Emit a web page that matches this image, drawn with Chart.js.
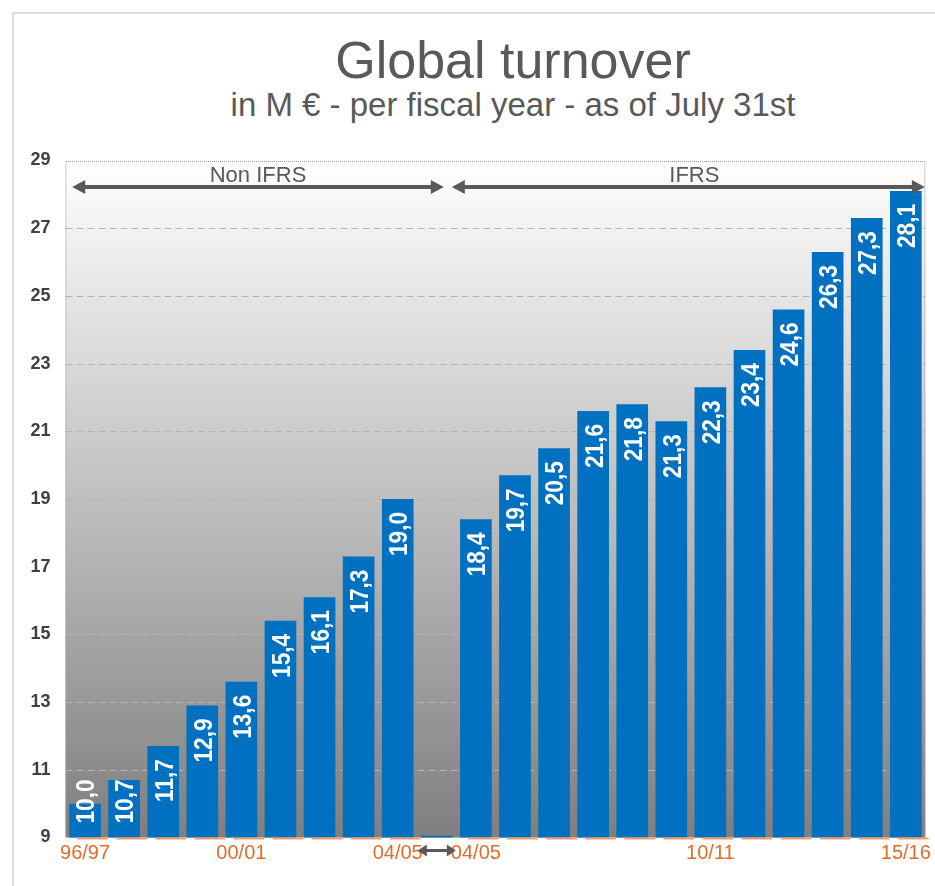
<!DOCTYPE html>
<html>
<head>
<meta charset="utf-8">
<script src="https://cdn.jsdelivr.net/npm/chart.js@4.4.1/dist/chart.umd.min.js"></script>
<style>
  html, body { margin: 0; padding: 0; background: #fff; overflow: hidden; }
  #wrap { position: relative; width: 935px; height: 886px; }
  #frame { position: absolute; left: 12px; top: 12px; width: 1000px; height: 1000px;
           border-left: 2px solid #dcdcdc; border-top: 2px solid #dcdcdc; }
  .ttl { position: absolute; left: 0; width: 1026px; text-align: center;
         font-family: "Liberation Sans", Arial, sans-serif; color: #595959; white-space: nowrap; }
  #title { top: 34px; font-size: 52px; line-height: 52px; }
  #subtitle { top: 88px; font-size: 33px; line-height: 33px; }
  canvas { position: absolute; left: 0; top: 0; }
</style>
</head>
<body>
<div id="wrap">
  <div id="frame"></div>
  <div id="title" class="ttl">Global turnover</div>
  <div id="subtitle" class="ttl">in M € - per fiscal year - as of July 31st</div>
  <canvas id="turnoverChart" width="935" height="886"></canvas>
</div>
<script>
// fiscal years (the empty slot separates Non IFRS and IFRS figures)
const categories = ['96/97', '97/98', '98/99', '99/00', '00/01', '01/02', '02/03', '03/04', '04/05',
  '', '04/05', '05/06', '06/07', '07/08', '08/09', '09/10', '10/11', '11/12', '12/13', '13/14', '14/15', '15/16'];
const turnover = [10.0, 10.7, 11.7, 12.9, 13.6, 15.4, 16.1, 17.3, 19.0,
  9.05, 18.4, 19.7, 20.5, 21.6, 21.8, 21.3, 22.3, 23.4, 24.6, 26.3, 27.3, 28.1];
const gapIndex = 9;
const shownTicks = [0, 4, 8, 10, 16, 21];
const yTicks = [9, 11, 13, 15, 17, 19, 21, 23, 25, 27, 29];
const periods = ['Non IFRS', 'IFRS'];

const ARROW = '#595959';

function doubleArrow(ctx, x1, x2, y, lw, hl, hw) {
  ctx.save();
  ctx.strokeStyle = ARROW;
  ctx.fillStyle = ARROW;
  ctx.lineWidth = lw;
  ctx.beginPath();
  ctx.moveTo(x1 + hl - 1, y);
  ctx.lineTo(x2 - hl + 1, y);
  ctx.stroke();
  ctx.beginPath();
  ctx.moveTo(x1, y); ctx.lineTo(x1 + hl, y - hw); ctx.lineTo(x1 + hl, y + hw); ctx.closePath();
  ctx.fill();
  ctx.beginPath();
  ctx.moveTo(x2, y); ctx.lineTo(x2 - hl, y - hw); ctx.lineTo(x2 - hl, y + hw); ctx.closePath();
  ctx.fill();
  ctx.restore();
}

const backdrop = {
  id: 'backdrop',
  beforeDatasetsDraw(chart) {
    const { ctx, chartArea: a, scales: { y } } = chart;
    ctx.save();
    const g = ctx.createLinearGradient(0, a.top, 0, a.bottom);
    g.addColorStop(0, '#ffffff');
    g.addColorStop(1, '#7f7f7f');
    ctx.fillStyle = g;
    ctx.fillRect(a.left, a.top, a.right - a.left, a.bottom - a.top);

    // dashed grid lines
    ctx.strokeStyle = '#b4b4b4';
    ctx.lineWidth = 1;
    ctx.setLineDash([7, 4]);
    yTicks.slice(1, -1).forEach(v => {
      const py = Math.round(y.getPixelForValue(v)) + 0.5;
      ctx.beginPath(); ctx.moveTo(a.left, py); ctx.lineTo(a.right, py); ctx.stroke();
    });

    // dotted frame of the plot
    ctx.strokeStyle = '#9a9a9a';
    ctx.setLineDash([1, 1]);
    const top = Math.round(y.getPixelForValue(29)) + 0.5;
    ctx.beginPath();
    ctx.moveTo(a.left + 0.5, a.bottom); ctx.lineTo(a.left + 0.5, top);
    ctx.lineTo(a.right - 0.5, top); ctx.lineTo(a.right - 0.5, a.bottom);
    ctx.stroke();
    ctx.restore();
  },
  afterDatasetsDraw(chart) {
    const { ctx, chartArea: a } = chart;
    const bars = chart.getDatasetMeta(0).data;

    // orange axis segments
    ctx.save();
    ctx.strokeStyle = '#f79a6a';
    ctx.lineWidth = 2;
    bars.forEach((b, i) => {
      if (i === gapIndex) return;
      ctx.beginPath();
      ctx.moveTo(b.x - b.width / 2 + 8, a.bottom + 1);
      ctx.lineTo(b.x + b.width / 2 + 7, a.bottom + 1);
      ctx.stroke();
    });
    ctx.restore();

    // value labels inside the bars
    ctx.save();
    ctx.fillStyle = '#ffffff';
    ctx.font = 'bold 26px "Liberation Sans", Arial, sans-serif';
    const sx = 0.87;
    bars.forEach((b, i) => {
      if (i === gapIndex) return;
      const txt = turnover[i].toFixed(1).replace('.', ',');
      const w = ctx.measureText(txt).width * sx;
      const end = Math.min(b.y + 13, a.bottom - 14 - w);
      ctx.save();
      ctx.translate(b.x, end);
      ctx.rotate(-Math.PI / 2);
      ctx.scale(sx, 1);
      ctx.textAlign = 'right';
      ctx.textBaseline = 'alphabetic';
      ctx.fillText(txt, 0, 26 * 0.36);
      ctx.restore();
    });
    ctx.restore();

    // period arrows
    const gap = bars[gapIndex];
    const y0 = chart.scales.y.getPixelForValue(29);
    const ay = y0 + 26.5;
    const spans = [
      [bars[0].x - bars[0].width / 2 + 3, gap.x + 7],
      [gap.x + 15, a.right - 0.5]
    ];
    ctx.save();
    ctx.fillStyle = ARROW;
    ctx.font = '22px "Liberation Sans", Arial, sans-serif';
    ctx.textAlign = 'center';
    ctx.textBaseline = 'alphabetic';
    spans.forEach((s, k) => {
      doubleArrow(ctx, s[0], s[1], ay, 4, 13, 7);
      ctx.fillText(periods[k], (s[0] + s[1]) / 2 + (k ? 6 : 0), y0 + 21);
    });
    ctx.restore();

    // small arrow under the gap
    doubleArrow(ctx, gap.x - 19, gap.x + 19, a.bottom + 13, 3, 9, 6);
  }
};

new Chart(document.getElementById('turnoverChart'), {
  type: 'bar',
  data: {
    labels: categories,
    datasets: [{
      data: turnover,
      backgroundColor: '#0070c0',
      borderWidth: 0,
      categoryPercentage: 1,
      barPercentage: 0.81
    }]
  },
  options: {
    responsive: false,
    animation: false,
    layout: { padding: { top: 160.5, right: 6.5, bottom: 0, left: 0 } },
    plugins: {
      legend: { display: false },
      tooltip: { enabled: false }
    },
    scales: {
      x: {
        grid: { display: false, drawTicks: false },
        border: { display: false },
        afterFit: s => { s.height = 48.5; },
        ticks: {
          autoSkip: false,
          maxRotation: 0,
          padding: 4,
          color: '#e46c2b',
          font: { family: '"Liberation Sans", Arial, sans-serif', size: 20 },
          callback: (v, i) => shownTicks.includes(i) ? categories[i] : ''
        }
      },
      y: {
        min: 9,
        max: 29,
        afterFit: s => { s.width = 65.5; },
        afterBuildTicks: s => { s.ticks = yTicks.map(v => ({ value: v })); },
        grid: { display: false, drawTicks: false },
        border: { display: false },
        ticks: {
          padding: 15,
          color: '#404040',
          font: { family: '"Liberation Sans", Arial, sans-serif', size: 18, weight: 'bold' }
        }
      }
    }
  },
  plugins: [backdrop]
});
</script>
</body>
</html>
